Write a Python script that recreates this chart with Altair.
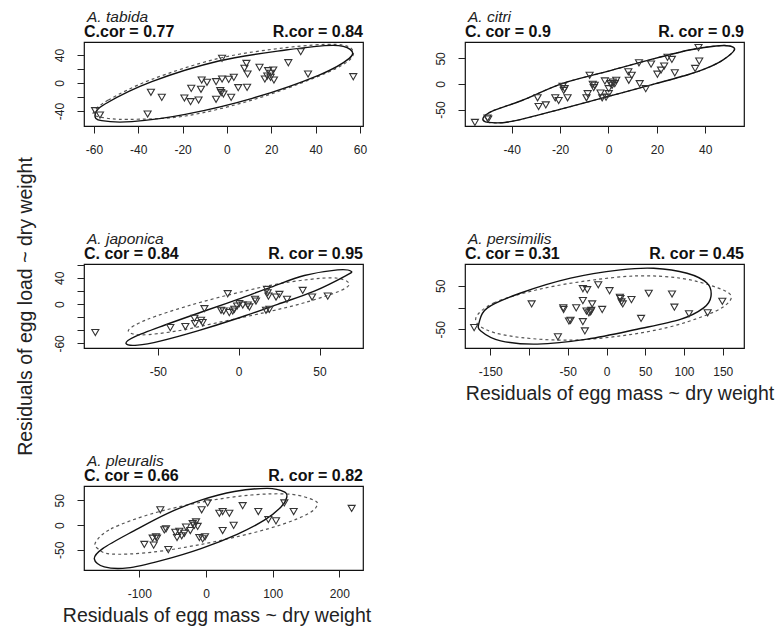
import altair as alt
import pandas as pd

FONT = "Liberation Sans, Arial, sans-serif"
TICKFONT = "Liberation Sans Narrow, Liberation Sans, Arial, sans-serif"

# ---------------- A. tabida ----------------
tabida_x = [-59.5, -57.3, -35.8, -34.3, -29.4, -19.2, -16.4, -16.1, -12.8, -11.7, -11.4, -9.0, -4.9, -4.9,
            -2.2, -2.2, -2.6, -1.6, 0.8, 1.9, 3.1, 5.1, 7.9, 8.8, 9.1, 9.3, 14.7, 17.1, 18.6, 19.7, 20.9,
            21.2, 19.8, 27.7, 33.3, 36.6, 57.0, 18.2, -3.0]
tabida_y = [-39.5, -45.7, -44.3, -13.3, -20.5, -21.4, -26.7, -7.6, -24.3, -9.0, 4.3, 1.0, -23.3, 1.9,
            5.7, 35.2, -13.8, -15.7, 5.2, -20.5, 8.1, -6.7, 21.0, 28.0, -6.2, 12.9, 22.4, 5.7, 17.6, 8.1, 18.6,
            4.3, 13.8, 29.0, 44.8, 12.9, 9.0, 10.0, -11.0]
tabida_solid_x = [-59.5, -55.0, -33.9, -3.7, 26.5, 47.6, 55.6, 55.2, 41.6, 11.4, -18.8, -42.9, -56.5]
tabida_solid_y = [-45.7, -30.0, 1.9, 31.4, 47.1, 53.8, 48.1, 35.2, 11.4, -21.9, -44.8, -55.2, -53.8]
tabida_dash_x = [-60.3, -53.5, -33.9, -3.7, 26.5, 49.1, 56.7, 54.4, 40.1, 11.4, -18.8, -44.5, -56.5]
tabida_dash_y = [-42.4, -24.3, 5.2, 35.2, 50.5, 55.2, 47.1, 30.5, 8.1, -24.3, -47.1, -51.9, -49.0]

# ---------------- A. citri ----------------
citri_x = [-55.2, -50.0, -49.7, -29.3, -28.9, -25.9, -22.0, -20.6, -19.0, -18.5, -18.1, -16.9, -9.1, -8.6,
           -7.8, -6.5, -6.1, -5.7, -3.3, -2.6, -1.5, -1.0, 0.1, 0.1, 0.8, 1.8, 1.5, 2.6, 3.2, 8.2, 8.4, 9.6,
           12.6, 12.9, 15.4, 17.6, 20.2, 21.7, 23.0, 24.4, 26.2, 27.4, 35.8, 37.5, 37.2]
citri_y = [-75.0, -66.4, -68.4, -27.0, -44.0, -40.8, -27.0, -32.2, -4.6, -12.5, -9.2, -27.0, -27.0, -19.0,
           17.1, -0.7, -7.2, -2.6, -17.8, -27.0, 5.9, -25.7, -19.0, -9.2, 0.7, 3.9, -2.6, 0.7, 7.2, 23.7, 7.2,
           17.1, 41.4, 0.7, -9.2, 38.8, 19.1, 27.0, 34.9, 52.0, 48.0, 21.7, 30.3, 44.7, 71.0]
citri_solid_x = [-51.8, -47.6, -35.8, -19.2, -1.2, 16.7, 33.4, 44.4, 50.0, 52.0, 47.2, 40.3, 33.4, 19.5,
                 -1.2, -22.0, -40.0, -49.7]
citri_solid_y = [-66.4, -52.0, -32.2, 0.7, 23.7, 46.7, 66.4, 74.3, 74.3, 66.4, 46.7, 30.3, 19.1, 0.7,
                 -25.7, -52.0, -73.0, -75.0]
citri_dash_x = citri_solid_x
citri_dash_y = citri_solid_y

# ---------------- A. japonica ----------------
japonica_x = [-88.7, -42.3, -33.0, -27.4, -27.0, -22.3, -23.3, -21.2, -10.9, -9.3, -6.8, -5.8, -3.7, -2.7,
              -1.0, 0.4, 2.5, 5.6, 6.6, 10.1, 10.7, 16.9, 19.0, 17.5, 17.9, 18.4, 23.1, 25.2, 29.9, 39.6,
              45.4, 55.1]
japonica_y = [-43.4, -35.9, -34.3, -21.7, -29.8, -28.3, -24.7, -7.1, -9.6, -10.6, 15.7, -13.1, -10.6, -8.1,
              -3.0, 0.5, -1.5, -1.5, -4.5, 7.1, 4.5, -9.6, -8.1, 22.2, 17.2, 12.1, 10.6, 14.6, 7.1, 20.7,
              10.6, 12.1]
japonica_solid_x = [-69.7, -64.5, -46.0, -21.2, -0.6, 20.0, 40.6, 61.2, 69.5, 66.4, 46.8, 24.1, -0.6, -25.4, -48.0, -62.5]
japonica_solid_y = [-60.1, -50.0, -32.3, -10.6, 7.1, 25.8, 43.4, 52.0, 50.0, 43.4, 19.7, -0.5, -21.7, -40.9, -56.1, -62.6]
japonica_dash_x = [-68.2, -56.3, -29.5, -0.6, 28.2, 57.1, 68.0, 63.3, 40.6, 15.9, -13.0, -37.7, -60.4]
japonica_dash_y = [-39.9, -23.2, -1.5, 17.2, 32.3, 39.9, 32.3, 20.7, 2.0, -13.1, -28.3, -40.9, -47.0]

# ---------------- A. persimilis ----------------
persimilis_x = [-170.8, -96.6, -62.7, -55.8, -55.4, -48.5, -46.4, -39.1, -30.5, -24.9, -30.5, -30.5, -27.9,
                -25.8, -22.7, -19.7, -18.5, -20.6, -10.7, -5.6, 3.9, 18.0, 19.3, 21.0, 17.2, 32.2, 44.6,
                54.5, 84.5, 87.6, 106.4, 130.5, 149.4]
persimilis_y = [-46.2, 8.3, -67.4, -0.8, -4.5, -31.0, -29.5, -0.8, 43.2, 40.9, 15.9, -32.6, -53.8,
                -8.3, -12.1, -6.8, 8.3, -9.8, 52.3, -4.5, 38.6, 20.5, 12.9, 8.3, 23.5, 18.2, -25.0,
                32.6, 31.1, 0.8, -14.4, -12.1, 14.4]
persimilis_solid_x = [-164.4, -153.6, -110.7, -46.4, 18.0, 60.9, 103.9, 129.6, 134.8, 125.3, 95.3, 39.5, -24.9, -89.3, -136.5, -162.2]
persimilis_solid_y = [-34.8, -0.8, 33.3, 67.4, 86.4, 90.2, 78.8, 56.1, 25.8, -0.8, -27.3, -50.0, -72.7, -84.1, -76.5, -53.8]
persimilis_dash_x = [-168.7, -145.1, -89.3, -24.9, 39.5, 95.3, 138.2, 160.5, 151.9, 125.3, 78.1, 18.0, -46.4, -110.7, -153.6]
persimilis_dash_y = [-25.0, 10.6, 40.9, 61.4, 72.7, 67.4, 48.5, 28.0, 3.0, -19.7, -46.2, -65.2, -75.0, -68.9, -52.3]

# ---------------- A. pleuralis ----------------
pleuralis_x = [-92.5, -78.5, -80.0, -75.0, -73.5, -68.5, -62.5, -60.0, -56.5, -46.0, -43.5, -40.0, -36.5,
               -32.5, -30.0, -23.5, -20.0, -17.5, -15.0, -12.5, -10.0, -5.0, -1.5, -6.5, 2.5, 20.0, 25.0,
               25.0, 35.0, 41.5, 55.0, 78.5, 93.5, 105.0, 117.5, 131.5, 218.5]
pleuralis_y = [-39.2, -40.6, -26.6, -23.8, -26.6, 30.8, -9.8, -7.7, -49.7, -14.7, -25.2, -12.6, -21.7,
               -16.8, -4.2, -11.2, 2.8, -0.7, 6.3, -2.8, -25.2, -28.0, -23.8, 30.8, 44.8, 23.8, 27.3,
               -11.2, 23.8, -0.7, 39.2, 27.3, 11.2, 8.4, 44.8, 27.3, 33.6]
pleuralis_solid_x = [-167.5, -155.0, -107.5, -57.5, -7.5, 42.5, 92.5, 117.5, 121.0, 112.5, 87.5, 47.5, -7.5, -67.5, -117.5, -152.5]
pleuralis_solid_y = [-68.5, -47.6, -11.2, 23.8, 50.3, 67.8, 74.1, 67.1, 55.2, 36.4, 9.8, -18.2, -47.6, -72.0, -86.7, -84.6]
pleuralis_dash_x = [-165.0, -142.5, -82.5, -7.5, 67.5, 127.5, 162.5, 166.0, 152.5, 117.5, 67.5, -7.5, -82.5, -142.5, -162.5]
pleuralis_dash_y = [-33.6, -7.7, 22.4, 46.2, 60.8, 62.2, 49.7, 37.8, 22.4, 2.8, -16.8, -39.2, -55.2, -58.7, -47.6]

# ---------------- titles / axes ----------------
species = ["A. tabida", "A. citri", "A. japonica", "A. persimilis", "A. pleuralis"]
c_labels = ["C.cor = 0.77", "C. cor = 0.9", "C. cor = 0.84", "C. cor = 0.31", "C. cor = 0.66"]
r_labels = ["R.cor = 0.84", "R. cor = 0.9", "R. cor = 0.95", "R. cor = 0.45", "R. cor = 0.82"]

x_domains = [[-64.5, 61.4], [-59.3, 56.0], [-95.7, 76.9], [-182.6, 177.4], [-183.0, 235.5]]
y_domains = [[-61.4, 58.6], [-82.0, 82.0], [-67.0, 61.0], [-93.0, 100.0], [-91.0, 79.0]]
x_ticks = [[-60, -40, -20, 0, 20, 40, 60], [-40, -20, 0, 20, 40], [-50, 0, 50],
           [-150, -100, -50, 0, 50, 100, 150], [-100, 0, 100, 200]]
x_shown = [[-60, -40, -20, 0, 20, 40, 60], [-40, -20, 0, 20, 40], [-50, 0, 50],
           [-150, -50, 0, 50, 100, 150], [-100, 0, 100, 200]]
y_ticks = [[-40, -20, 0, 20, 40], [-50, 0, 50], [-60, -40, -20, 0, 20, 40, 60], [-50, 0, 50], [-50, 0, 50]]
y_shown = [[-40, 0, 40], [-50, 0, 50], [-60, 0, 40], [-50, 50], [-50, 0, 50]]

x_title = "Residuals of egg mass ~ dry weight"
y_title = "Residuals of egg load ~ dry weight"

W, H = 279, 84


def panel(k, px, py, sx, sy, dx, dy, xtitle=False, ytitle=False, xshift=0):
    pts = pd.DataFrame({"x": px, "y": py})
    sol = pd.DataFrame({"x": sx, "y": sy, "i": list(range(len(sx)))})
    das = pd.DataFrame({"x": dx, "y": dy, "i": list(range(len(dx)))})

    xa = dict(values=x_ticks[k], grid=False, domain=False, tickSize=7, tickColor="#222", tickWidth=1,
              labelFont=TICKFONT, labelFontSize=12, labelColor="#222", labelPadding=11,
              labelFlush=False, labelOverlap=False,
              labelExpr=f"indexof({x_shown[k]}, datum.value) >= 0 ? '' + datum.value : ''")
    if xtitle:
        xa.update(title=x_title, titleFont=FONT, titleFontSize=19.5, titleFontWeight="normal",
                  titleColor="#222", titlePadding=10, titleX=W / 2 + xshift, titleY=36)
    else:
        xa.update(title="")
    ya = dict(values=y_ticks[k], grid=False, domain=False, tickSize=7, tickColor="#222", tickWidth=1,
              labelFont=TICKFONT, labelFontSize=12, labelColor="#222", labelPadding=11,
              labelAngle=270, labelAlign="center", labelBaseline="bottom",
              labelFlush=False, labelOverlap=False,
              labelExpr=f"indexof({y_shown[k]}, datum.value) >= 0 ? '' + datum.value : ''")
    if ytitle:
        ya.update(title=y_title, titleFont=FONT, titleFontSize=19.5, titleFontWeight="normal",
                  titleColor="#222", titlePadding=18)
    else:
        ya.update(title="")

    xs = alt.Scale(domain=x_domains[k], nice=False, zero=False)
    ys = alt.Scale(domain=y_domains[k], nice=False, zero=False)
    X = alt.X("x:Q", scale=xs, axis=alt.Axis(**xa))
    Y = alt.Y("y:Q", scale=ys, axis=alt.Axis(**ya))

    dash = alt.Chart(das).mark_line(interpolate="cardinal-closed", color="#555", strokeWidth=1.2,
                                    strokeDash=[3, 3]).encode(x=X, y=Y, order="i:Q")
    solid = alt.Chart(sol).mark_line(interpolate="cardinal-closed", color="#111",
                                     strokeWidth=1.4).encode(x=X, y=Y, order="i:Q")
    points = alt.Chart(pts).mark_point(shape="triangle-down", filled=False, size=50, color="#333",
                                       strokeWidth=1.1, opacity=1).encode(x=X, y=Y)

    sp = alt.Chart(pd.DataFrame({"t": [species[k]]})).mark_text(
        align="left", baseline="alphabetic", font=FONT, fontSize=15.5, fontStyle="italic",
        color="#222").encode(x=alt.value(3), y=alt.value(-20.5), text="t:N")
    cc = alt.Chart(pd.DataFrame({"t": [c_labels[k]]})).mark_text(
        align="left", baseline="alphabetic", font=FONT, fontSize=16, fontWeight="bold",
        color="#111").encode(x=alt.value(0), y=alt.value(-5), text="t:N")
    rc = alt.Chart(pd.DataFrame({"t": [r_labels[k]]})).mark_text(
        align="right", baseline="alphabetic", font=FONT, fontSize=16, fontWeight="bold",
        color="#111").encode(x=alt.value(W), y=alt.value(-5), text="t:N")

    return alt.layer(dash, solid, points, sp, cc, rc).properties(width=W, height=H)


p1 = panel(0, tabida_x, tabida_y, tabida_solid_x, tabida_solid_y, tabida_dash_x, tabida_dash_y)
p2 = panel(1, citri_x, citri_y, citri_solid_x, citri_solid_y, citri_dash_x, citri_dash_y)
p3 = panel(2, japonica_x, japonica_y, japonica_solid_x, japonica_solid_y, japonica_dash_x, japonica_dash_y,
           ytitle=True)
p4 = panel(3, persimilis_x, persimilis_y, persimilis_solid_x, persimilis_solid_y, persimilis_dash_x,
           persimilis_dash_y, xtitle=True, xshift=15)
p5 = panel(4, pleuralis_x, pleuralis_y, pleuralis_solid_x, pleuralis_solid_y, pleuralis_dash_x,
           pleuralis_dash_y, xtitle=True, xshift=-7)

chart = alt.concat(p1, p2, p3, p4, p5, columns=2, bounds="flush",
                   spacing={"row": 138, "column": 102}).properties(
    padding={"left": 14, "top": 8, "right": 0, "bottom": 0},
    background="white",
).configure_view(stroke="#111", strokeWidth=1.2)

chart.save("out.html", embed_options={"renderer": "svg", "actions": False})
